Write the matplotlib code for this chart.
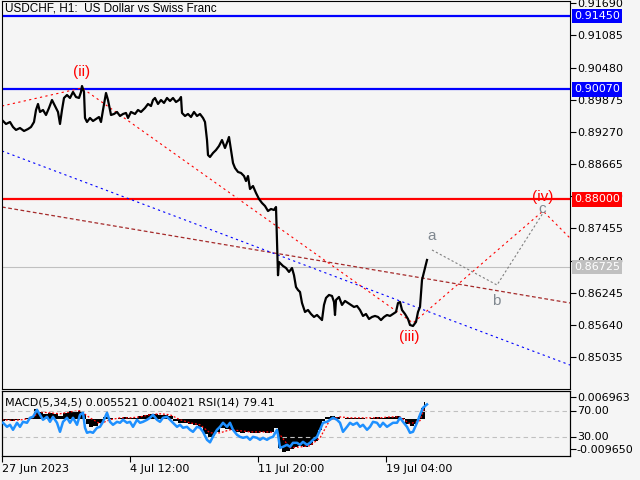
import matplotlib
matplotlib.use("Agg")
import matplotlib.pyplot as plt

BG = "#f5f5f5"
plt.rcParams["font.family"] = ["Liberation Sans", "DejaVu Sans"]

# ---- price (H1 bar index, close) ----
price_bar = [0, 4, 8, 11, 14, 18, 22, 26, 29, 32, 34, 36, 38, 41, 44, 47, 50, 53, 56, 58,
             60, 62, 65, 68, 71, 74, 77, 79, 80, 82, 83, 85, 88, 91, 94, 97, 99, 101, 104, 106,
             109, 112, 115, 118, 121, 124, 126, 129, 133, 136, 139, 143, 146, 149, 151, 153, 156, 159, 162, 165,
             168, 171, 174, 177, 179, 180, 183, 186, 189, 192, 195, 198, 201, 203, 205, 206, 208, 211, 214, 217,
             220, 223, 226, 227, 229, 231, 233, 236, 239, 242, 244, 246, 248, 251, 254, 257, 260, 263, 266, 269,
             272, 274, 275, 276, 277, 278, 281, 284, 287, 290, 292, 294, 296, 298, 300, 303, 306, 309, 312, 315,
             318, 320, 322, 324, 327, 330, 332, 333, 334, 337, 340, 343, 346, 349, 352, 355, 358, 361, 364, 367,
             370, 373, 376, 379, 382, 385, 388, 391, 394, 396, 398, 400, 403, 406, 408, 411, 414, 416, 418, 419,
             420, 422, 424, 425]
price = [0.89494, 0.89419, 0.89456, 0.89362, 0.89307, 0.89343, 0.89287, 0.89324, 0.89362, 0.89456,
         0.89682, 0.89795, 0.89645, 0.89682, 0.89588, 0.89720, 0.89870, 0.89757, 0.89645, 0.89419,
         0.89682, 0.89908, 0.89964, 0.89908, 0.90021, 0.89926, 0.89908, 0.90021, 0.90133, 0.90021,
         0.89532, 0.89456, 0.89532, 0.89475, 0.89513, 0.89550, 0.89456, 0.89682, 0.90002, 0.89870,
         0.89588, 0.89607, 0.89645, 0.89569, 0.89607, 0.89626, 0.89532, 0.89645, 0.89607, 0.89682,
         0.89645, 0.89720, 0.89795, 0.89757, 0.89870, 0.89908, 0.89795, 0.89870, 0.89814, 0.89908,
         0.89851, 0.89908, 0.89832, 0.89870, 0.89926, 0.89626, 0.89569, 0.89607, 0.89550, 0.89645,
         0.89569, 0.89607, 0.89532, 0.89456, 0.89117, 0.88835, 0.88798, 0.88873, 0.88929, 0.89005,
         0.89117, 0.88967, 0.89117, 0.89174, 0.88929, 0.88685, 0.88591, 0.88516, 0.88497, 0.88440,
         0.88346, 0.88440, 0.88196, 0.88252, 0.88121, 0.88008, 0.87933, 0.87876, 0.87782, 0.87820,
         0.87801, 0.87857, 0.87237, 0.86574, 0.86823, 0.86804, 0.86748, 0.86710, 0.86636, 0.86710,
         0.86574, 0.86352, 0.86296, 0.86259, 0.86052, 0.85883, 0.85920, 0.85845, 0.85789, 0.85826,
         0.85770, 0.85731, 0.86015, 0.86147, 0.86203, 0.86184, 0.86071, 0.85826, 0.86109, 0.86165,
         0.86015, 0.86090, 0.86052, 0.86015, 0.85977, 0.85996, 0.85920, 0.85808, 0.85845, 0.85751,
         0.85789, 0.85808, 0.85789, 0.85731, 0.85789, 0.85826, 0.85808, 0.85845, 0.85883, 0.86052,
         0.86071, 0.85920, 0.85845, 0.85751, 0.85638, 0.85619, 0.85695, 0.85883, 0.85977, 0.86240,
         0.86484, 0.86636, 0.86785, 0.86861]

# ---- wave markup ----
wave_bar = [0, 80, 411, 541, 568]
wave_price = [0.89757, 0.90096, 0.85676, 0.87782, 0.87273]
abc_bar = [430, 495, 541]
abc_price = [0.87049, 0.86390, 0.87744]
blue_trend_bar = [0, 568]
blue_trend_price = [0.88911, 0.84885]
brown_trend_bar = [0, 568]
brown_trend_price = [0.87857, 0.86052]

levels = [0.91450, 0.90070, 0.88000]
level_colors = ["#0000ff", "#0000ff", "#ff0000"]
bid = 0.86725

price_ticks = [0.91690, 0.91085, 0.90480, 0.89875, 0.89270, 0.88665, 0.88060,
               0.87455, 0.86850, 0.86245, 0.85640, 0.85035]

# ---- MACD(5,34,5) ----
macd_bar = [0, 5, 10, 15, 20, 25, 30, 34, 38, 43, 48, 53, 58, 63, 68, 73, 78, 82, 85, 88,
            93, 98, 103, 108, 113, 118, 123, 128, 133, 138, 143, 148, 153, 158, 163, 168, 173, 178, 183, 188,
            193, 198, 203, 208, 211, 215, 220, 225, 230, 235, 240, 245, 250, 255, 260, 265, 270, 274, 278, 282,
            286, 290, 294, 298, 303, 308, 313, 318, 321, 325, 330, 335, 340, 345, 350, 355, 360, 365, 370, 375,
            380, 385, 390, 395, 400, 405, 410, 414, 417, 420, 423]
macd = [-0.00064, -0.00032, -0.00064, -0.00032, 0.0, 0.00032, 0.00064, 0.0032, 0.00224, 0.0016,
        0.00192, 0.0016, 0.00096, 0.00192, 0.00256, 0.00224, 0.00256, 0.0016, -0.0016, -0.00256,
        -0.00224, -0.00128, 0.00064, 0.00032, 0.0, 0.00032, 0.00064, 0.00032, 0.00032, 0.00096,
        0.00128, 0.0016, 0.0016, 0.00128, 0.00128, 0.00096, -0.00064, -0.00128, -0.00128, -0.0016,
        -0.00192, -0.00256, -0.0048, -0.00576, -0.00544, -0.00416, -0.00288, -0.0032, -0.00352, -0.00416,
        -0.00448, -0.00416, -0.00448, -0.00448, -0.00416, -0.00448, -0.00416, -0.00288, -0.00928, -0.01056,
        -0.01024, -0.0096, -0.00896, -0.00864, -0.00896, -0.00832, -0.00704, -0.00352, -0.00064, 0.00064,
        0.00096, 0.00064, 0.0, 0.00032, 0.00032, 0.00032, 0.00032, 0.0, 0.00032, 0.00064,
        0.00032, 0.00064, 0.00064, 0.00096, 0.00032, -0.0016, -0.00224, -0.0016, 0.00096, 0.00352,
        0.00552]
signal_bar = [0, 10, 20, 30, 38, 48, 58, 68, 78, 88, 98, 108, 118, 128, 138, 148, 158, 168, 178, 188,
              198, 208, 218, 228, 238, 248, 258, 268, 278, 288, 298, 308, 318, 328, 338, 348, 358, 368, 378, 388,
              398, 408, 418, 423]
signal = [-0.00032, -0.0005, -0.0003, 0.0003, 0.0022, 0.0019, 0.0016, 0.0022, 0.0026, 0.0003,
          -0.0016, -0.0003, 0.0003, 0.0003, 0.0006, 0.0013, 0.0016, 0.0013, -0.0003, -0.0013,
          -0.0019, -0.0045, -0.0045, -0.0035, -0.0038, -0.0042, -0.0042, -0.0042, -0.0051, -0.0093,
          -0.0090, -0.0086, -0.0061, -0.0003, 0.0006, 0.0003, 0.0003, 0.0003, 0.0003, 0.0006,
          0.0006, -0.0016, -0.0006, 0.00402]

# ---- RSI(14) ----
rsi_bar = [1, 5, 8, 11, 15, 18, 21, 25, 28, 31, 35, 38, 41, 45, 48, 51, 55, 58, 61, 65,
           68, 71, 75, 78, 81, 83, 85, 88, 91, 95, 98, 101, 105, 108, 111, 115, 118, 121, 125, 128,
           131, 135, 138, 141, 145, 148, 151, 155, 158, 161, 165, 168, 171, 175, 178, 181, 185, 188, 191, 195,
           198, 201, 205, 208, 211, 215, 218, 221, 225, 228, 231, 235, 238, 241, 245, 248, 251, 255, 258, 261,
           265, 268, 271, 275, 276, 278, 281, 285, 288, 291, 295, 298, 301, 305, 308, 311, 315, 318, 321, 325,
           328, 331, 335, 338, 341, 345, 348, 351, 355, 358, 361, 365, 368, 371, 375, 378, 381, 385, 388, 391,
           395, 398, 401, 405, 408, 411, 415, 418, 421, 425]
rsi = [51.1, 44.9, 48.0, 40.3, 51.1, 44.9, 52.6, 51.1, 58.8, 60.3, 71.1, 63.4, 55.7, 60.3, 52.6, 60.3,
       51.1, 37.2, 52.6, 58.8, 51.1, 58.8, 48.0, 63.4, 66.5, 43.4, 35.7, 37.2, 35.7, 43.4, 44.9, 52.6,
       66.5, 52.6, 48.0, 52.6, 51.1, 55.7, 51.1, 52.6, 44.9, 55.7, 51.1, 52.6, 55.7, 58.8, 63.4, 55.7,
       52.6, 58.8, 60.3, 55.7, 51.1, 44.9, 48.0, 43.4, 44.9, 40.3, 37.2, 44.9, 43.4, 37.2, 24.9, 21.0,
       30.0, 40.3, 44.9, 51.1, 44.9, 51.1, 40.3, 32.6, 29.5, 28.0, 29.5, 24.9, 29.5, 28.0, 24.9, 28.0,
       24.9, 28.0, 29.5, 40.3, 32.6, 12.6, 14.2, 17.2, 14.2, 20.3, 20.3, 17.2, 21.8, 17.2, 20.3, 24.9,
       29.5, 40.3, 51.1, 52.6, 55.7, 58.8, 55.7, 51.1, 37.2, 44.9, 51.1, 48.0, 51.1, 44.9, 48.0, 40.3,
       44.9, 52.6, 51.1, 44.9, 51.1, 44.9, 48.0, 51.1, 51.1, 58.8, 52.6, 44.9, 35.7, 37.2, 51.1, 63.4,
       74.2, 79.4]

time_ticks = [0, 128, 256, 384]
time_labels = ["27 Jun 2023", "4 Jul 12:00", "11 Jul 20:00", "19 Jul 04:00"]

FS = 8.5          # title
FS_AX = 8         # scale labels, indicator caption
AX_FONT = ["DejaVu Sans"]

fig = plt.figure(figsize=(6.4, 4.8), dpi=100, facecolor=BG)
ax = fig.add_axes([2 / 640, 91 / 480, 568 / 640, 388 / 480], facecolor=BG)
axi = fig.add_axes([2 / 640, 24 / 480, 568 / 640, 65 / 480], facecolor=BG)

# main chart
for lvl, col in zip(levels, level_colors):
    ax.axhline(lvl, color=col, lw=1.6, zorder=2)
ax.axhline(bid, color="#c0c0c0", lw=0.8, zorder=1)

ax.plot(brown_trend_bar, brown_trend_price, color="#a52a2a", lw=0.9, ls=(0, (3, 2)), zorder=2)
ax.plot(blue_trend_bar, blue_trend_price, color="#0000ff", lw=0.8, ls=(0, (2, 3)), zorder=2)
ax.plot(wave_bar, wave_price, color="#ff0000", lw=0.8, ls=(0, (2, 3)), zorder=2)
ax.plot(abc_bar, abc_price, color="#808080", lw=0.8, ls=(0, (2, 2)), zorder=2)
ax.plot(price_bar, price, color="black", lw=1.6, zorder=3)

wave_labels = [("(ii)", 80, 0.90397, "#ff0000"), ("(iii)", 407, 0.85412, "#ff0000"),
               ("(iv)", 541, 0.88045, "#ff0000"), ("a", 430, 0.87312, "#808890"),
               ("b", 494, 0.86089, "#808890"), ("c", 540, 0.87820, "#808890")]
for txt, xb, yp, col in wave_labels:
    ax.text(xb, yp, txt, color=col, fontsize=11, ha="center", va="center", zorder=4)

ax.text(0.006, 0.997, "USDCHF, H1:  US Dollar vs Swiss Franc", transform=ax.transAxes,
        ha="left", va="top", fontsize=FS, zorder=5)

ax.set_xlim(0, 568)
ax.set_ylim(0.84434, 0.91732)
ax.set_xticks([])
ax.yaxis.tick_right()
ax.set_yticks(price_ticks)
ax.set_yticklabels([f"{v:.5f}" for v in price_ticks], family=AX_FONT)
ax.tick_params(axis="y", direction="out", length=4, width=0.8, pad=1, labelsize=FS_AX)
for sp in ax.spines.values():
    sp.set_color("black")
    sp.set_linewidth(0.8)

for val, col in zip(levels + [bid], level_colors + ["#c0c0c0"]):
    ax.text(1.0 + 4 / 568, val, f"{val:.5f}", transform=ax.get_yaxis_transform(),
            ha="left", va="center", color="white", fontsize=FS_AX, family=AX_FONT,
            clip_on=False, zorder=10,
            bbox=dict(boxstyle="square,pad=0.2", fc=col, ec="none"))

# indicator panel: MACD + RSI
axi.fill_between(macd_bar, macd, 0, step="mid", color="black", lw=0, zorder=2)
axi.plot(signal_bar, signal, color="#ff0000", lw=0.9, ls=(0, (1.5, 1.5)), zorder=3)
axi.set_xlim(0, 568)
axi.set_ylim(-0.01189, 0.00888)

axr = axi.twinx()
axr.axhline(70, color="#c0c0c0", lw=0.8, ls=(0, (4, 3)), zorder=1)
axr.axhline(30, color="#c0c0c0", lw=0.8, ls=(0, (4, 3)), zorder=1)
axr.plot(rsi_bar, rsi, color="#1e90ff", lw=1.8, zorder=4)
axr.set_ylim(0, 100)
axr.set_xlim(0, 568)
axr.set_yticks([70, 30])
axr.set_yticklabels(["70.00", "30.00"], family=AX_FONT)
axr.tick_params(axis="y", direction="out", length=4, width=0.8, pad=1, labelsize=FS_AX)

axi.yaxis.tick_right()
axi.set_yticks([0.006963, -0.009650])
axi.set_yticklabels(["0.006963", "-0.009650"], family=AX_FONT)
axi.tick_params(axis="y", direction="out", length=4, width=0.8, pad=1, labelsize=FS_AX)
axi.set_xticks(time_ticks)
axi.set_xticklabels(time_labels, ha="left", family=AX_FONT)
axi.tick_params(axis="x", direction="out", length=4, width=0.8, pad=2, labelsize=FS_AX)
for a in (axi, axr):
    for sp in a.spines.values():
        sp.set_color("black")
        sp.set_linewidth(0.8)

axi.text(0.006, 0.9, "MACD(5,34,5) 0.005521 0.004021 RSI(14) 79.41", transform=axi.transAxes,
         ha="left", va="top", fontsize=FS_AX, family=AX_FONT, zorder=5)

fig.savefig("out.png", dpi=100, facecolor=BG)
